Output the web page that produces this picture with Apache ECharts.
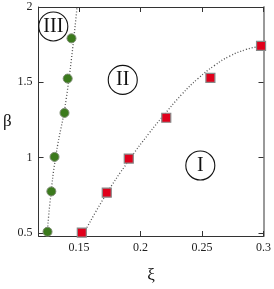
<!DOCTYPE html>
<html><head><meta charset="utf-8">
<script src="https://cdn.jsdelivr.net/npm/echarts@6/dist/echarts.min.js"></script>
<style>html,body{margin:0;padding:0;background:#fff}#c{width:274px;height:289px}</style>
</head><body><div id="c"></div>
<script>
// tick labels
const xTicks = [0.15, 0.2, 0.25, 0.3];
const yTicks = [0.5, 1, 1.5, 2];
// phase boundary data (ξ, β)
const greenXi = [0.1243, 0.1274, 0.1300, 0.1381, 0.1407, 0.1438];
const greenBeta = [0.508, 0.776, 1.005, 1.297, 1.525, 1.792];
const redXi = [0.1522, 0.1725, 0.1904, 0.2209, 0.2568, 0.2980];
const redBeta = [0.503, 0.768, 0.994, 1.265, 1.529, 1.742];
// fitted dotted curves
const greenFitXi = [0.1240, 0.1264, 0.1311, 0.1397, 0.1483];
const greenFitBeta = [0.484, 0.710, 1.013, 1.400, 2.0];
const redFitXi = [0.1529, 0.1709, 0.1904, 0.2068, 0.2178, 0.2334, 0.2467, 0.2600, 0.2725, 0.2858, 0.2936, 0.2983];
const redFitBeta = [0.484, 0.742, 0.981, 1.161, 1.271, 1.419, 1.525, 1.611, 1.674, 1.718, 1.734, 1.741];
// region labels
const regionNames = ['III', 'II', 'I'];
const regionXi = [0.1290, 0.1855, 0.2486];
const regionBeta = [1.871, 1.516, 0.948];

const zip = (a, b) => a.map((v, i) => [v, b[i]]);
const font = 'Liberation Serif';
const fmt = v => String(+v.toFixed(2));
const chart = echarts.init(document.getElementById('c'));
const axisLineStyle = {color: '#333', width: 1};
chart.setOption({
  animation: false,
  grid: {left: 34, right: 6, top: 7, bottom: 47},
  xAxis: [{
    type: 'value', min: 0.117, max: 0.3, position: 'bottom',
    axisLine: {show: true, lineStyle: axisLineStyle},
    axisTick: {show: true, inside: true, length: 5, customValues: xTicks, lineStyle: {color: '#333'}},
    axisLabel: {customValues: xTicks, formatter: fmt, fontFamily: font, fontSize: 12, color: '#222', margin: 6},
    splitLine: {show: false},
    name: 'ξ', nameLocation: 'middle', nameGap: 31,
    nameTextStyle: {fontFamily: font, fontSize: 17, color: '#111'}
  }, {
    type: 'value', min: 0.117, max: 0.3, position: 'top',
    axisLine: {show: true, lineStyle: axisLineStyle},
    axisTick: {show: true, inside: true, length: 5, customValues: xTicks, lineStyle: {color: '#333'}},
    axisLabel: {show: false}, splitLine: {show: false}
  }],
  yAxis: [{
    type: 'value', min: 0.48, max: 2, position: 'left',
    axisLine: {show: true, lineStyle: axisLineStyle},
    axisTick: {show: true, inside: true, length: 5, customValues: yTicks, lineStyle: {color: '#333'}},
    axisLabel: {customValues: yTicks, formatter: fmt, fontFamily: font, fontSize: 12, color: '#222', margin: 6},
    splitLine: {show: false},
    name: 'β', nameLocation: 'middle', nameGap: 26, nameRotate: 0,
    nameTextStyle: {fontFamily: font, fontSize: 17, color: '#111'}
  }, {
    type: 'value', min: 0.48, max: 2, position: 'right',
    axisLine: {show: true, lineStyle: {color: '#999', width: 2}},
    axisTick: {show: true, inside: true, length: 5, customValues: yTicks, lineStyle: {color: '#333'}},
    axisLabel: {show: false}, splitLine: {show: false}
  }],
  series: [
    {type: 'line', data: zip(greenFitXi, greenFitBeta), smooth: true, symbol: 'none',
     lineStyle: {color: '#555', width: 1.3, type: [1, 2]}, z: 2},
    {type: 'line', data: zip(redFitXi, redFitBeta), smooth: true, symbol: 'none',
     lineStyle: {color: '#555', width: 1.3, type: [1, 2]}, z: 2},
    {type: 'scatter', data: zip(greenXi, greenBeta), symbol: 'circle', symbolSize: 9,
     itemStyle: {color: '#3b7a1c', borderColor: '#7a8a70', borderWidth: 1, opacity: 1}, z: 3},
    {type: 'scatter', data: zip(redXi, redBeta), symbol: 'rect', symbolSize: 9,
     itemStyle: {color: '#e0001b', borderColor: '#888', borderWidth: 1.2, opacity: 1}, z: 3},
    {type: 'scatter', data: regionNames.map((n, i) => ({name: n, value: [regionXi[i], regionBeta[i]]})),
     symbol: 'circle', symbolSize: 29,
     itemStyle: {color: 'rgba(255,255,255,0)', borderColor: '#111', borderWidth: 1.1, opacity: 1},
     label: {show: true, position: 'inside', formatter: p => p.name, fontFamily: font, fontSize: 20, color: '#111'},
     z: 4}
  ]
});
</script></body></html>
